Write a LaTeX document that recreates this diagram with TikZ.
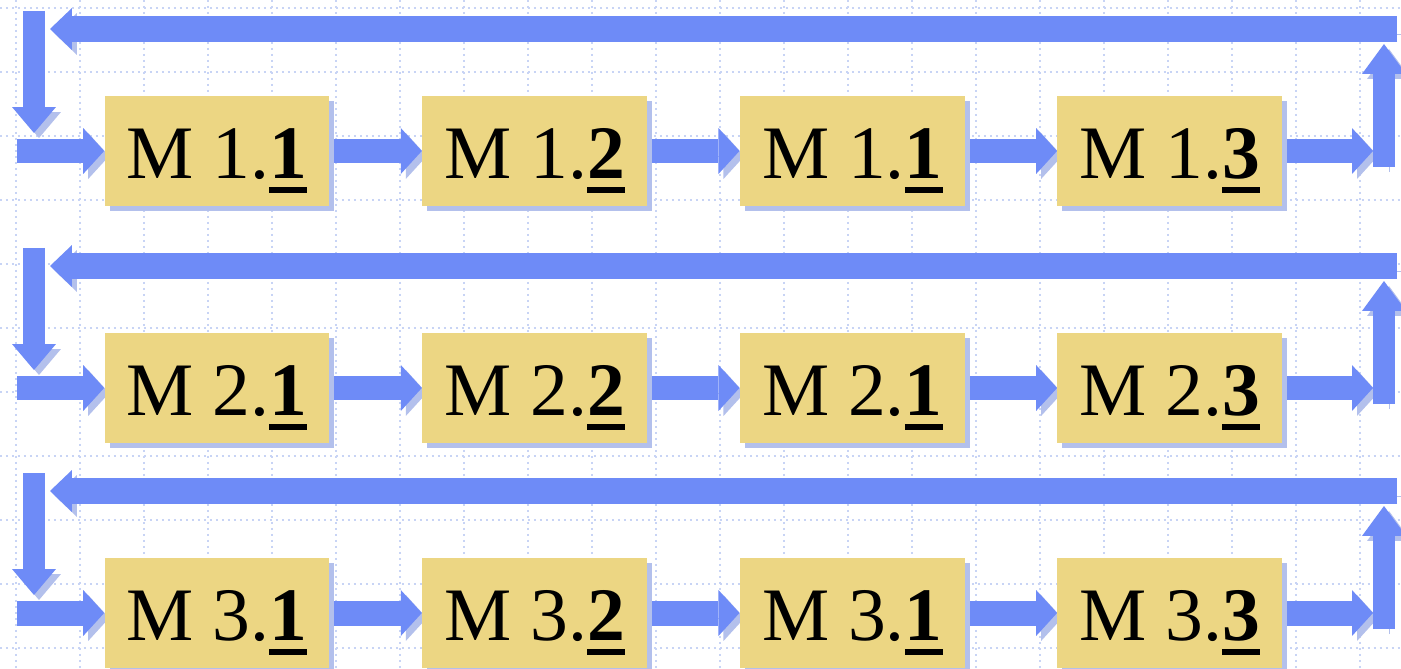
\documentclass[tikz,border=0pt]{standalone}
\usepackage{fontspec}
\setmainfont{Liberation Serif}
\usetikzlibrary{arrows.meta, positioning, shadows, backgrounds}
\definecolor{flowblue}{RGB}{110,139,247}
\definecolor{shadeblue}{RGB}{179,192,236}
\definecolor{boxyellow}{RGB}{236,214,131}
\definecolor{gridblue}{RGB}{200,212,245}
% bold digit with a heavy underline
\newcommand{\ulbf}[1]{\setbox0\hbox{\bfseries #1}\rlap{\rule[-0.19em]{\wd0}{0.08em}}\box0}

\begin{document}
\begin{tikzpicture}[
    x=0.02cm, y=-0.02cm,
    node distance=1.84cm,
    mbox/.style={rectangle, fill=boxyellow, minimum width=4.5cm, minimum height=2.2cm, inner sep=0pt, font=\fontsize{43}{50}\selectfont, text height=31.8pt, text depth=0pt, drop shadow={shadow xshift=0.1cm, shadow yshift=-0.1cm, fill=shadeblue, opacity=1}},
    barrow/.style n args={3}{draw=flowblue, line width=#1, -{Triangle[length=#2, width=#3, line width=0pt]}, preaction={draw=shadeblue, transform canvas={shift={(0.1cm,-0.1cm)}}}},
    flow/.style={barrow={0.5cm}{0.42cm}{0.92cm}},
    rise/.style={barrow={0.44cm}{0.6cm}{0.88cm}},
    sink/.style={barrow={0.44cm}{0.52cm}{0.88cm}},
    back/.style={barrow={0.52cm}{0.44cm}{0.84cm}},
    gridline/.style={draw=gridblue, line width=0.03cm, dash pattern=on 0.04cm off 0.08cm}
]
    \useasboundingbox (0,0) rectangle (1401,669);
    \begin{scope}[on background layer]
        \fill[white] (0,0) rectangle (1401,669);
        \foreach \gx in {16,80,...,1360} \draw[gridline] (\gx,0) -- (\gx,669);
        \foreach \gy in {8,72,...,648} \draw[gridline] (0,\gy) -- (1401,\gy);
    \end{scope}

    \foreach \r/\dy in {1/0, 2/237, 3/462} {
        \node[mbox] (m\r1) at (217,{151+\dy}) {M \r.\ulbf{1}};
        \node[mbox, right=of m\r1] (m\r2) {M \r.\ulbf{2}};
        \node[mbox, right=of m\r2] (m\r3) {M \r.\ulbf{1}};
        \node[mbox, right=of m\r3] (m\r4) {M \r.\ulbf{3}};

        \coordinate (in\r) at (17,{151+\dy});
        \coordinate (out\r) at (1373,{151+\dy});
        \coordinate (rb\r) at (1384,{167+\dy});
        \coordinate (rt\r) at (1384,{44+\dy});
        \coordinate (ra\r) at (1397,{29+\dy});
        \coordinate (la\r) at (50,{29+\dy});
        \coordinate (lt\r) at (34,{11+\dy});
        \coordinate (lb\r) at (34,{133+\dy});

        \begin{scope}[on background layer]
            \draw[flow] (in\r) -- (m\r1.west);
            \draw[flow] (m\r1.east) -- (m\r2.west);
            \draw[flow] (m\r2.east) -- (m\r3.west);
            \draw[flow] (m\r3.east) -- (m\r4.west);
            \draw[flow] (m\r4.east) -- (out\r);
            \draw[rise] (rb\r) -- (rt\r);
            \draw[back] (ra\r) -- (la\r);
            \draw[sink] (lt\r) -- (lb\r);
        \end{scope}
    }
\end{tikzpicture}
\end{document}
